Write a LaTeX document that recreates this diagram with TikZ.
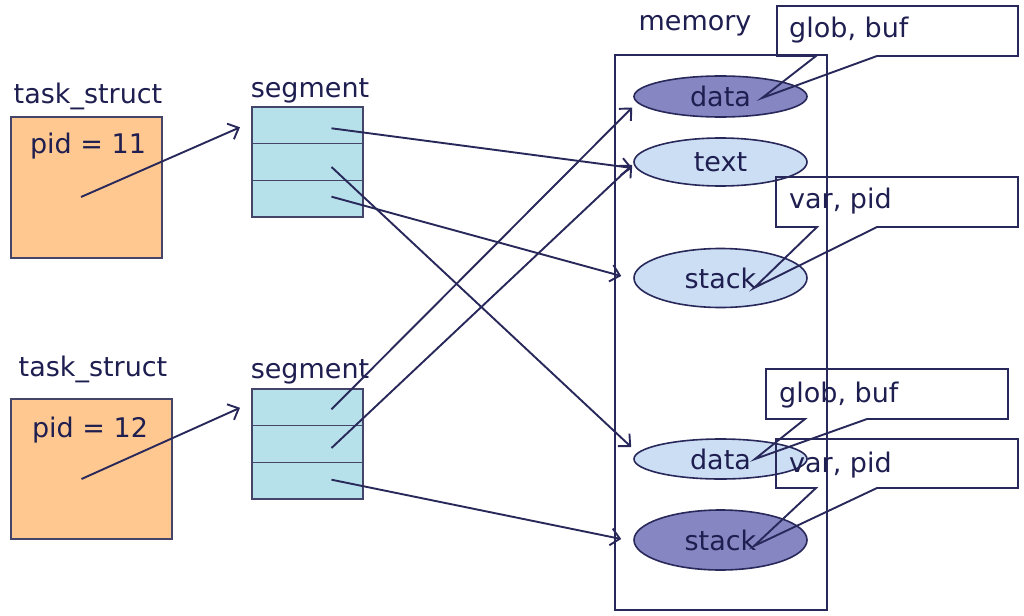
\documentclass[tikz,border=0pt]{standalone}
\usepackage{fontspec}
\setmainfont{DejaVu Sans}
\usetikzlibrary{positioning, shapes.geometric, arrows.meta}

\definecolor{inkblue}{HTML}{28285A}
\definecolor{textblue}{HTML}{1E1E50}
\definecolor{boxline}{HTML}{45456A}
\definecolor{taskfill}{HTML}{FFC890}
\definecolor{segfill}{HTML}{B7E1EA}
\definecolor{lightarea}{HTML}{CCDEF4}
\definecolor{darkarea}{HTML}{8686C2}

\tikzset{
  every node/.style={text=textblue, font=\fontsize{27}{31}\selectfont},
  taskbox/.style={draw=boxline, fill=taskfill, line width=1.6pt, inner sep=0},
  segrow/.style={draw=boxline, fill=segfill, line width=1.6pt, minimum width=111pt, minimum height=36.7pt, inner sep=0, outer sep=0},
  area/.style={ellipse, draw=inkblue, line width=1.6pt, minimum width=173pt, inner sep=0},
  ptr/.style={draw=inkblue, line width=1.9pt, -{Straight Barb[length=9pt,width=17pt]}},
  callout/.style={draw=inkblue, line width=1.9pt}
}

\begin{document}
\begin{tikzpicture}[x=1pt, y=-1pt]
    \useasboundingbox (0,0) rectangle (1024,615);

    % Process structures
    \node[taskbox, minimum width=151pt, minimum height=141pt] (task1) at (86.5,187.5) {};
    \node (tname1) at (88,96) {task\_struct};
    \node (pid1) at (88,146) {pid = 11};
    \node[taskbox, minimum width=161pt, minimum height=140pt] (task2) at (91.5,469) {};
    \node (tname2) at (93,369) {task\_struct};
    \node (pid2) at (90,430) {pid = 12};

    % Segment tables
    \node[segrow] (seg1a) at (307.5,125.3) {};
    \node[segrow, below=0pt of seg1a] (seg1b) {};
    \node[segrow, below=0pt of seg1b] (seg1c) {};
    \node (sname1) at (310,91) {segment};
    \node[segrow] (seg2a) at (307.5,407.3) {};
    \node[segrow, below=0pt of seg2a] (seg2b) {};
    \node[segrow, below=0pt of seg2b] (seg2c) {};
    \node (sname2) at (310,372) {segment};

    % Memory and its areas
    \node[draw=inkblue, line width=1.6pt, minimum width=212pt, minimum height=555pt, inner sep=0] (memory) at (721,332.5) {};
    \node (mname) at (695,26) {memory};
    \node[area, fill=darkarea, minimum height=41pt] (mdata1) at (720.5,96.5) {data};
    \node[area, fill=lightarea, minimum height=48pt] (mtext) at (720.5,162) {text};
    \node[area, fill=lightarea, minimum height=59pt] (mstack1) at (720.5,278) {stack};
    \node[area, fill=lightarea, minimum height=40pt] (mdata2) at (720.5,459) {data};
    \node[area, fill=darkarea, minimum height=60pt] (mstack2) at (720.5,540) {stack};

    % Pointers
    \draw[ptr] ([shift={(-5.5,9.5)}]task1.center) -- ([shift={(-12,2)}]seg1a.west);
    \draw[ptr] ([shift={(-10,10)}]task2.center) -- ([shift={(-12,0.5)}]seg2a.west);
    \draw[ptr] ([shift={(24,3)}]seg1a.center) -- ([shift={(-1,6)}]mtext.west);
    \draw[ptr] ([shift={(24,5)}]seg1b.center) -- ([shift={(-2,-12)}]mdata2.west);
    \draw[ptr] ([shift={(24,-2)}]seg1c.center) -- ([shift={(-12,-2)}]mstack1.west);
    \draw[ptr] ([shift={(24,2)}]seg2a.center) -- ([shift={(-1,11)}]mdata1.west);
    \draw[ptr] ([shift={(24,4)}]seg2b.center) -- ([shift={(-1,3)}]mtext.west);
    \draw[ptr] ([shift={(24,-1)}]seg2c.center) -- ([shift={(-12,-1)}]mstack2.west);

    % Variable callouts
    \foreach \l/\t/\r/\b/\a/\c/\px/\py/\tx/\ty/\txt [count=\k] in {
        777/6/1018/56/816/877/762/98/789/30/{glob, buf},
        776/177/1018/227/817/877/754/288/789/201/{var, pid},
        766/369/1008/419/805/867/755/459/779/395/{glob, buf},
        776/439/1018/488/816/877/754/546/789/465/{var, pid}} {
      \draw[callout] (\l,\t) -- (\r,\t) -- (\r,\b) -- (\c,\b) -- (\px,\py) -- (\a,\b) -- (\l,\b) -- cycle;
      \node[anchor=west, inner sep=0] (note\k) at (\tx,\ty) {\txt};
    }

  \end{tikzpicture}
\end{document}
